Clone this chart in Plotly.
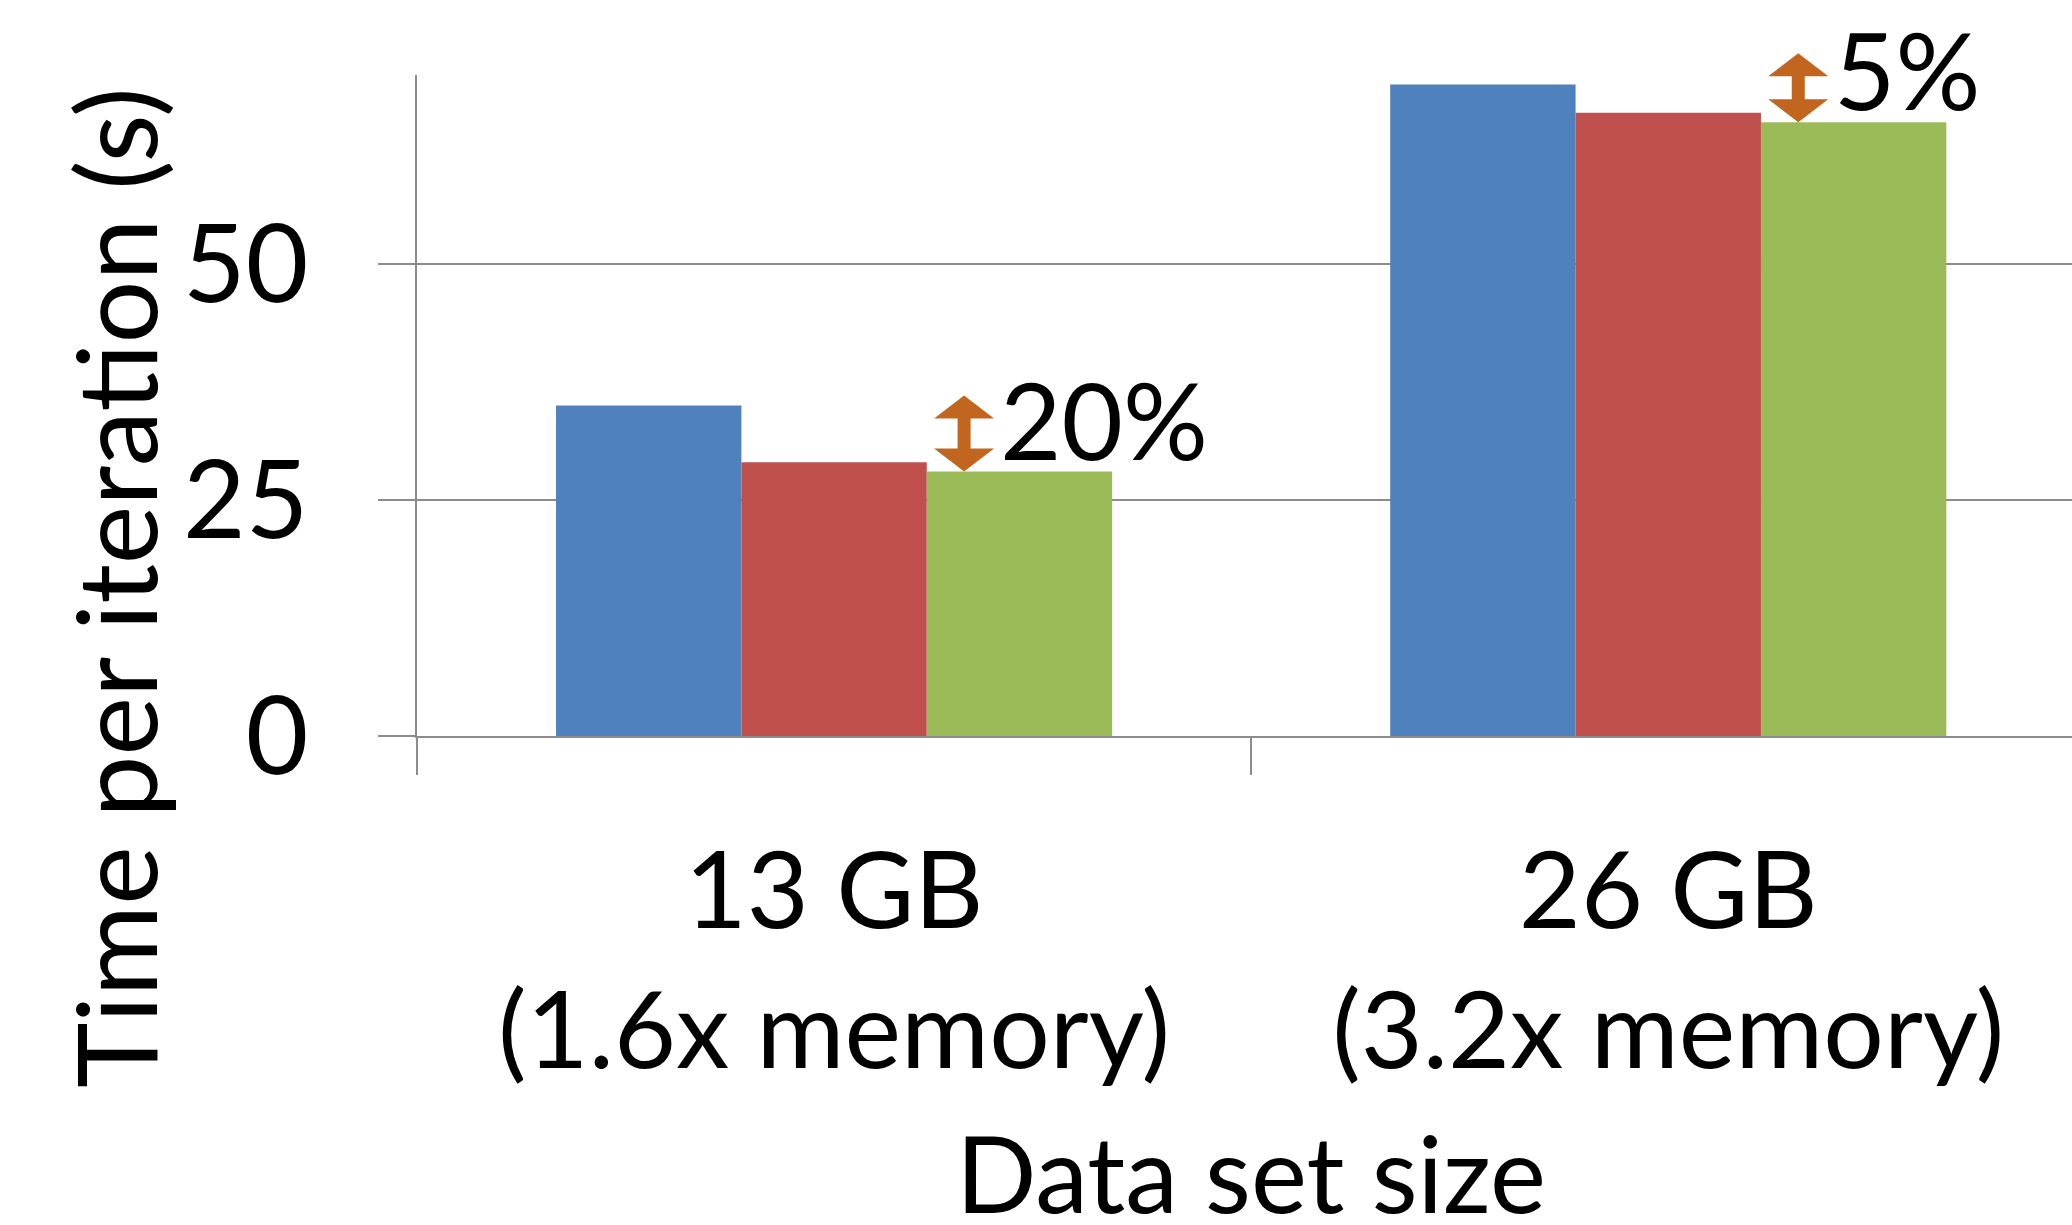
import plotly.graph_objects as go

# Data set sizes on the x axis
categories = ["13 GB<br>(1.6x memory)", "26 GB<br>(3.2x memory)"]

# Time per iteration (s) for the three configurations
series_a = [35, 69]
series_b = [29, 66]
series_c = [28, 65]

series_names = ["Config A", "Config B", "Config C"]
series_colors = ["#4F81BD", "#C0504D", "#9BBB59"]

# Improvement labels shown next to the third bar of each group
improvement_labels = ["20%", "5%"]
arrow_heights = [76, 69]

y_ticks = [0, 25, 50]
y_max = 70

FONT = "Lato"
GRID = "#8C8C8C"
ARROW = "#C2661F"

fig = go.Figure()
for name, vals, color in zip(series_names, [series_a, series_b, series_c], series_colors):
    fig.add_trace(go.Bar(
        x=categories, y=vals, name=name,
        marker=dict(color=color, line=dict(width=0)),
    ))


def double_arrow(h, cx=130, hw=30, sw=6.5, hh=23):
    """Vertical double-headed arrow path in pixels, bottom tip at the origin."""
    pts = [
        (cx, 0), (cx + hw, hh), (cx + sw, hh), (cx + sw, h - hh),
        (cx + hw, h - hh), (cx, h), (cx - hw, h - hh), (cx - sw, h - hh),
        (cx - sw, hh), (cx - hw, hh),
    ]
    return "M" + " L".join(f"{x},{y}" for x, y in pts) + " Z"


shapes = []
annotations = []
for i, (label, h) in enumerate(zip(improvement_labels, arrow_heights)):
    # paper y-reference so the arrow may rise above the top of the axis
    shapes.append(dict(
        type="path", xref="x", yref="paper",
        xsizemode="pixel", ysizemode="pixel",
        xanchor=i, yanchor=series_c[i] / y_max,
        path=double_arrow(h),
        fillcolor=ARROW, line=dict(width=0),
    ))
    annotations.append(dict(
        text=label, xref="x", yref="y", x=i, y=series_c[i],
        xanchor="left", yanchor="middle", xshift=164, yshift=53,
        showarrow=False, font=dict(family=FONT, size=106, color="black"),
    ))

# Axis titles
annotations.append(dict(
    text="Data set size", xref="x", yref="paper", x=0.5, y=0,
    xanchor="center", yanchor="middle", yshift=-436,
    showarrow=False, font=dict(family=FONT, size=106, color="black"),
))
annotations.append(dict(
    text="Time per iteration (s)", xref="paper", yref="paper", x=0, y=0,
    xanchor="center", yanchor="middle", xshift=-303, yshift=148,
    textangle=-90,
    showarrow=False, font=dict(family=FONT, size=111, color="black"),
))

fig.update_layout(
    width=2072, height=1225,
    margin=dict(l=417, r=0, t=75, b=489, pad=0),
    paper_bgcolor="white", plot_bgcolor="white",
    barmode="group", bargap=1 / 3, bargroupgap=0,
    showlegend=False,
    shapes=shapes, annotations=annotations,
    font=dict(family=FONT, color="black"),
)

fig.update_xaxes(
    type="category", range=[-0.5, 1.484],
    showline=True, linecolor=GRID, linewidth=2,
    ticks="outside", tickson="boundaries", ticklen=37, tickwidth=2, tickcolor=GRID,
    showgrid=False, zeroline=False,
    tickfont=dict(family=FONT, size=107, color="black"),
    ticklabelstandoff=62,
)
fig.update_yaxes(
    range=[0, y_max], tickvals=y_ticks,
    showline=True, linecolor=GRID, linewidth=2,
    ticks="outside", ticklen=37, tickwidth=2, tickcolor=GRID,
    showgrid=True, gridcolor=GRID, gridwidth=2, zeroline=False,
    tickfont=dict(family=FONT, size=108, color="black"),
    ticklabelstandoff=48,
)

fig.write_html("out.html")
